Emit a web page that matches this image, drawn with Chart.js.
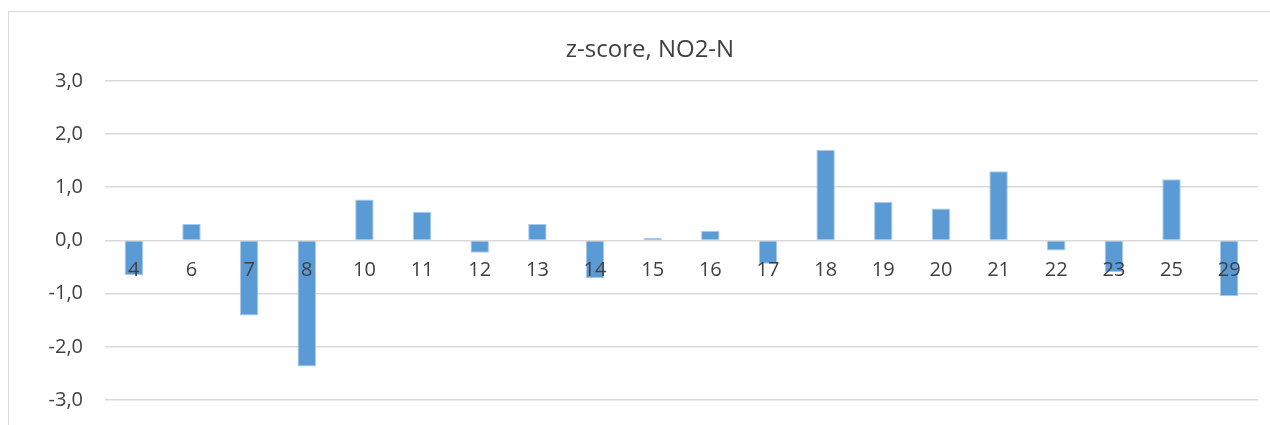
<!DOCTYPE html>
<html>
<head>
<meta charset="utf-8">
<script src="https://cdn.jsdelivr.net/npm/chart.js@4/dist/chart.umd.min.js"></script>
<style>
  html, body { margin: 0; padding: 0; background: #fff; }
  #wrap { position: relative; width: 1270px; height: 425px; overflow: hidden; }
  #frame { position: absolute; left: 8px; top: 11px; width: 1300px; height: 500px; border: 1px solid #d9d9d9; box-sizing: border-box; }
  canvas { position: absolute; left: 0; top: 0; }
</style>
</head>
<body>
<div id="wrap">
  <div id="frame"></div>
  <canvas id="myChart" width="1270" height="425"></canvas>
</div>
<script>
const labels = ['4','6','7','8','10','11','12','13','14','15','16','17','18','19','20','21','22','23','25','29'];
const zScores = [-0.65, 0.31, -1.41, -2.37, 0.77, 0.54, -0.23, 0.31, -0.71, 0.05, 0.18, -0.44, 1.70, 0.72, 0.60, 1.30, -0.19, -0.60, 1.15, -1.05];
const yTicks = [-3, -2, -1, 0, 1, 2, 3];

document.addEventListener('DOMContentLoaded', () => {
    const textColor = '#404040';
    const fontFamily = "'Open Sans', sans-serif";

    const data = {
        labels: labels,
        datasets: [{
            label: 'z-score, NO2-N',
            data: zScores,
            backgroundColor: '#5b9bd5',
            borderColor: '#a9c9ea',
            borderWidth: 1,
            categoryPercentage: 1,
            barPercentage: 0.32
        }]
    };

    const config = {
        type: 'bar',
        data: data,
        options: {
            responsive: false,
            animation: false,
            layout: {
                padding: { left: 42, right: 12, top: 0, bottom: 25 }
            },
            plugins: {
                legend: { display: false },
                tooltip: { enabled: false },
                title: {
                    display: true,
                    text: 'z-score, NO2-N',
                    color: textColor,
                    font: { family: fontFamily, size: 24, weight: 'normal' },
                    padding: { top: 36, bottom: 16 }
                }
            },
            scales: {
                x: {
                    position: { y: 0 },
                    grid: { display: false, drawTicks: false },
                    border: { display: false },
                    ticks: {
                        z: 1,
                        color: textColor,
                        font: { family: fontFamily, size: 20 },
                        padding: 18,
                        maxRotation: 0,
                        autoSkip: false
                    }
                },
                y: {
                    min: -3,
                    max: 3,
                    afterFit: (scale) => {
                        scale.width = 63;
                        scale.paddingTop = 0;
                        scale.paddingBottom = 0;
                    },
                    afterBuildTicks: (scale) => {
                        scale.ticks = yTicks.map(v => ({ value: v }));
                    },
                    grid: { color: '#d9d9d9', lineWidth: 1.5, drawTicks: false },
                    border: { display: false },
                    ticks: {
                        color: textColor,
                        font: { family: fontFamily, size: 20 },
                        padding: 22,
                        callback: (v) => v.toFixed(1).replace('.', ',')
                    }
                }
            }
        }
    };

    const ctx = document.getElementById('myChart');
    if (ctx) {
        new Chart(ctx, config);
    }
});
</script>
</body>
</html>
